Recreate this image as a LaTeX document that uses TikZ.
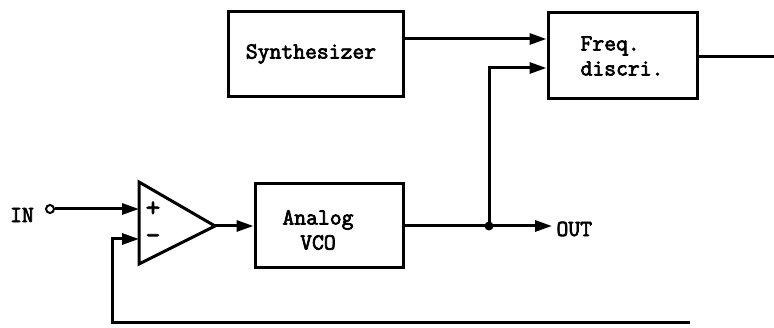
\documentclass[tikz,border=0pt]{standalone}
\usepackage{fontspec}
\newfontfamily\tw[FakeBold=3]{Latin Modern Mono}
\usetikzlibrary{arrows.meta}
\begin{document}
\begin{tikzpicture}[x=1pt,y=-1pt,
  line width=3pt,
  blk/.style={draw, line width=3pt, inner sep=0pt},
  lbl/.style={font=\tw\fontsize{23}{25}\selectfont, inner sep=0pt},
  sgn/.style={font=\tw\fontsize{28}{28}\selectfont, inner sep=0pt},
  arr/.style={-{Triangle[length=17pt,width=11pt]}},
  line join=miter]
\useasboundingbox (0,0) rectangle (774,328);
\node[blk, minimum width=175pt, minimum height=85pt] (syn) at (315.5,54.5) {};
\node[lbl] (syntxt) at (311,54) {Synthesizer};
\node[blk, minimum width=149pt, minimum height=86pt] (fd) at (622.5,56) {};
\node[lbl, align=left] (fdtxt) at (622,56) {Freq.\\[0pt]discri.};
\node[blk, minimum width=148pt, minimum height=84pt] (vco) at (329,226) {};
\node[lbl, align=center] (vcotxt) at (318,230) {Analog\\[0pt]VCO};
% op-amp
\coordinate (oa1) at (139,182);
\coordinate (oa2) at (139,264);
\coordinate (oaout) at (215,226);
\draw (oa1) -- (oa2) -- (oaout) -- cycle;
\coordinate (pin) at (139,209);
\coordinate (nin) at (139,239);
\node[sgn] (plus) at (153,209) {+};
\node[sgn] (minus) at (153,239) {-};
% input
\node[lbl] (in) at (22,215) {IN};
\node[draw, circle, line width=2pt, minimum size=8pt, inner sep=0pt] (term) at (50,209) {};
\draw[arr] (term.east) -- (pin);
% op-amp to vco
\draw[arr] (oaout) -- (vco.west |- oaout);
% vco out
\coordinate (j) at (489,226);
\coordinate (outp) at (552,226);
\draw (vco.east |- j) -- (j);
\draw[arr] (j) -- (outp);
\fill (j) circle (4.5pt);
\node[lbl, anchor=west] (out) at (555,229) {OUT};
% to freq discri
\coordinate (fin2) at (fd.west |- 0,68);
\draw[arr] (j) -- (489,68) -- (fin2);
\draw[arr] (syn.east |- 0,39) -- (fd.west |- 0,39);
% freq discri output
\coordinate (fdo) at (774,57);
\draw (fd.east |- fdo) -- (fdo);
% feedback
\coordinate (fb) at (690,323);
\draw[arr] (fb) -- (112,323) -- (112,239) -- (nin);
\end{tikzpicture}
\end{document}
